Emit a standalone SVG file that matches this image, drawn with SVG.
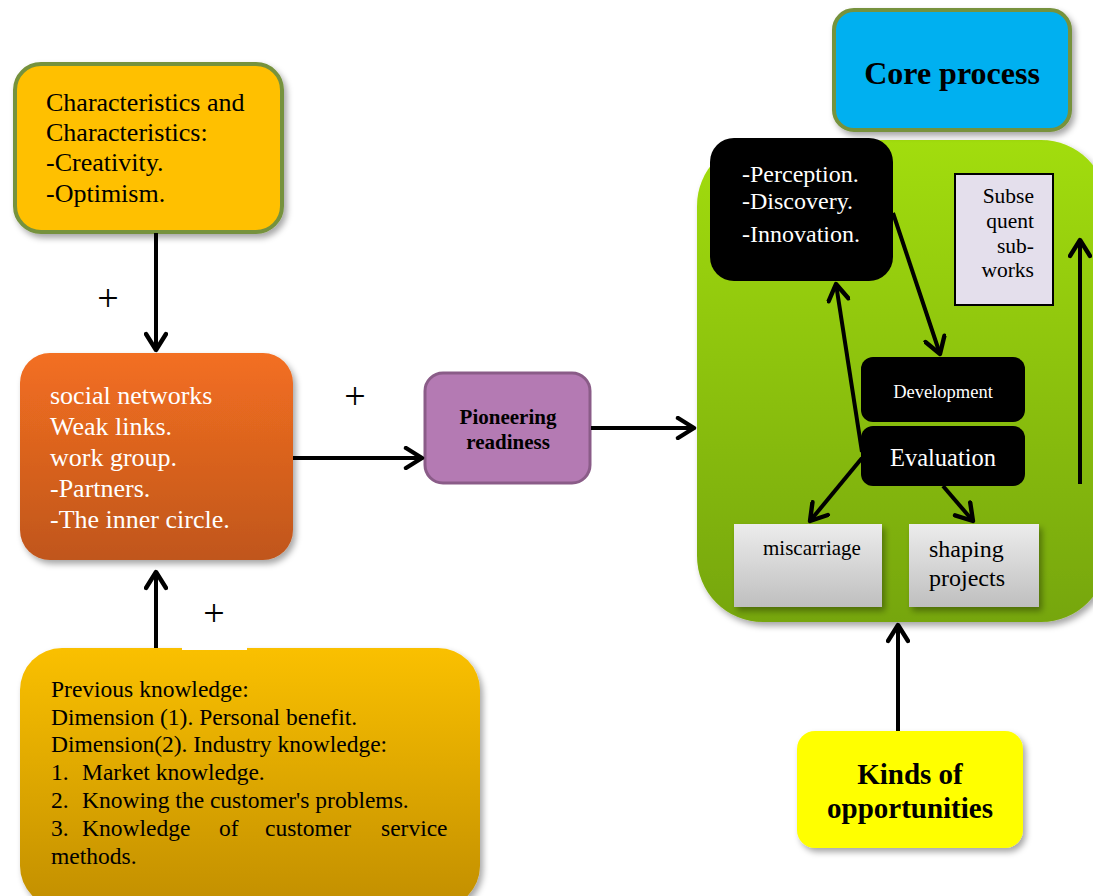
<svg xmlns="http://www.w3.org/2000/svg" width="1093" height="896" viewBox="0 0 1093 896">
<style>
.t{font-family:"Liberation Serif","Times New Roman",serif;}
.w{fill:#fff;}
.b{font-weight:bold;}
.ln{stroke:#000;stroke-width:4;fill:none;marker-end:url(#ah);}
</style>
<defs>
<marker id="ah" viewBox="0 0 12 12" refX="10" refY="6" markerWidth="6" markerHeight="6" orient="auto" markerUnits="strokeWidth">
<path d="M2,1 L10,6 L2,11" fill="none" stroke="#000" stroke-width="2.2" stroke-linecap="round" stroke-linejoin="round"/>
</marker>
<filter id="sh" x="-10%" y="-10%" width="125%" height="125%">
<feDropShadow dx="3" dy="4" stdDeviation="3" flood-color="#000" flood-opacity="0.35"/>
</filter>
<linearGradient id="gOr" x1="0" y1="0" x2="0" y2="1"><stop offset="0" stop-color="#F36F21"/><stop offset="1" stop-color="#C0561C"/></linearGradient>
<linearGradient id="gGr" x1="0" y1="0" x2="0" y2="1"><stop offset="0" stop-color="#A2DD08"/><stop offset="1" stop-color="#76A608"/></linearGradient>
<linearGradient id="gGy" x1="0" y1="0" x2="0" y2="1"><stop offset="0" stop-color="#ECECEC"/><stop offset="1" stop-color="#BFBFBF"/></linearGradient>
<linearGradient id="gGo" x1="0" y1="0" x2="0" y2="1"><stop offset="0" stop-color="#FAC000"/><stop offset="1" stop-color="#C28F00"/></linearGradient>
</defs>
<rect width="1093" height="896" fill="#fff"/>

<g id="characteristics">
<rect x="15" y="64" width="267" height="168" rx="26" fill="#FFC000" stroke="#76923C" stroke-width="4" filter="url(#sh)"/>
<text class="t" font-size="26"><tspan x="46" y="111">Characteristics and</tspan><tspan x="46" y="141">Characteristics:</tspan><tspan x="46" y="171">-Creativity.</tspan><tspan x="46" y="202">-Optimism.</tspan></text>
</g>

<g id="social">
<rect x="20" y="353" width="273" height="207" rx="30" fill="url(#gOr)" filter="url(#sh)"/>
<text class="t w" font-size="26"><tspan x="50" y="404">social networks</tspan><tspan x="50" y="435">Weak links.</tspan><tspan x="50" y="466">work group.</tspan><tspan x="50" y="497">-Partners.</tspan><tspan x="50" y="528">-The inner circle.</tspan></text>
</g>

<g id="pioneering">
<rect x="425" y="373" width="165" height="110" rx="18" fill="#B47AB3" stroke="#8A5C88" stroke-width="3"/>
<text class="t b" font-size="21" text-anchor="middle"><tspan x="508" y="424">Pioneering</tspan><tspan x="508" y="449">readiness</tspan></text>
</g>

<g id="knowledge">
<rect x="20" y="648" width="460" height="260" rx="42" fill="url(#gGo)" filter="url(#sh)"/>
<rect x="182" y="642" width="65" height="8" fill="#fff"/>
<text class="t" font-size="23.5"><tspan x="51" y="697">Previous knowledge:</tspan><tspan x="51" y="725">Dimension (1). Personal benefit.</tspan><tspan x="51" y="752">Dimension(2). Industry knowledge:</tspan><tspan x="51" y="780">1.</tspan><tspan x="82" y="780">Market knowledge.</tspan><tspan x="51" y="808">2.</tspan><tspan x="82" y="808">Knowing the customer's problems.</tspan><tspan x="51" y="836">3.</tspan><tspan x="82" y="836">Knowledge</tspan><tspan x="219" y="836">of</tspan><tspan x="265" y="836">customer</tspan><tspan x="381" y="836">service</tspan><tspan x="51" y="864">methods.</tspan></text>
</g>

<g id="core-area">
<rect x="697" y="140" width="410" height="482" rx="66" fill="url(#gGr)" filter="url(#sh)"/>
</g>

<g id="core-process">
<rect x="834" y="10" width="236" height="120" rx="20" fill="#00B0F0" stroke="#76923C" stroke-width="4" filter="url(#sh)"/>
<text class="t b" font-size="32" text-anchor="middle" x="952" y="84">Core process</text>
</g>

<g id="perception">
<rect x="710" y="138" width="183" height="143" rx="24" fill="#000"/>
<text class="t w" font-size="24"><tspan x="742" y="182">-Perception.</tspan><tspan x="742" y="209">-Discovery.</tspan><tspan x="742" y="242">-Innovation.</tspan></text>
</g>

<g id="subsequent">
<rect x="955" y="174" width="98" height="131" fill="#E4DFEC" stroke="#000" stroke-width="2"/>
<text class="t" font-size="21.5" text-anchor="end"><tspan x="1034" y="203">Subse</tspan><tspan x="1034" y="228">quent</tspan><tspan x="1034" y="253">sub-</tspan><tspan x="1034" y="277">works</tspan></text>
</g>

<g id="development">
<rect x="861" y="357" width="164" height="65" rx="12" fill="#000"/>
<text class="t w" font-size="18.5" text-anchor="middle" x="943" y="398">Development</text>
</g>

<g id="evaluation">
<rect x="861" y="426" width="164" height="60" rx="12" fill="#000"/>
<text class="t w" font-size="24.5" text-anchor="middle" x="943" y="466">Evaluation</text>
</g>

<g id="miscarriage">
<rect x="734" y="524" width="148" height="83" fill="url(#gGy)" filter="url(#sh)"/>
<text class="t" font-size="21" x="763" y="555">miscarriage</text>
</g>

<g id="shaping">
<rect x="909" y="524" width="130" height="83" fill="url(#gGy)" filter="url(#sh)"/>
<text class="t" font-size="24"><tspan x="929" y="557">shaping</tspan><tspan x="929" y="586">projects</tspan></text>
</g>

<g id="kinds">
<rect x="797" y="731" width="226" height="117" rx="18" fill="#FFFF00" filter="url(#sh)"/>
<text class="t b" font-size="29" text-anchor="middle"><tspan x="910" y="784">Kinds of</tspan><tspan x="910" y="818">opportunities</tspan></text>
</g>

<g id="connectors">
<line class="ln" x1="156" y1="233" x2="156" y2="350"/>
<line class="ln" x1="293" y1="458" x2="422" y2="458"/>
<line class="ln" x1="156" y1="648" x2="156" y2="572"/>
<line class="ln" x1="591" y1="428" x2="694" y2="428"/>
<line class="ln" x1="893" y1="213" x2="940" y2="354"/>
<line class="ln" x1="862" y1="452" x2="836" y2="284"/>
<line class="ln" x1="862" y1="458" x2="810" y2="521"/>
<line class="ln" x1="943" y1="486" x2="973" y2="521"/>
<line class="ln" x1="1080" y1="484" x2="1080" y2="240"/>
<line class="ln" x1="898" y1="731" x2="898" y2="625"/>
</g>

<g id="plus-signs">
<text class="t" font-size="38" text-anchor="middle" x="108" y="311">+</text>
<text class="t" font-size="38" text-anchor="middle" x="355" y="409">+</text>
<text class="t" font-size="38" text-anchor="middle" x="214" y="626">+</text>
</g>
</svg>
